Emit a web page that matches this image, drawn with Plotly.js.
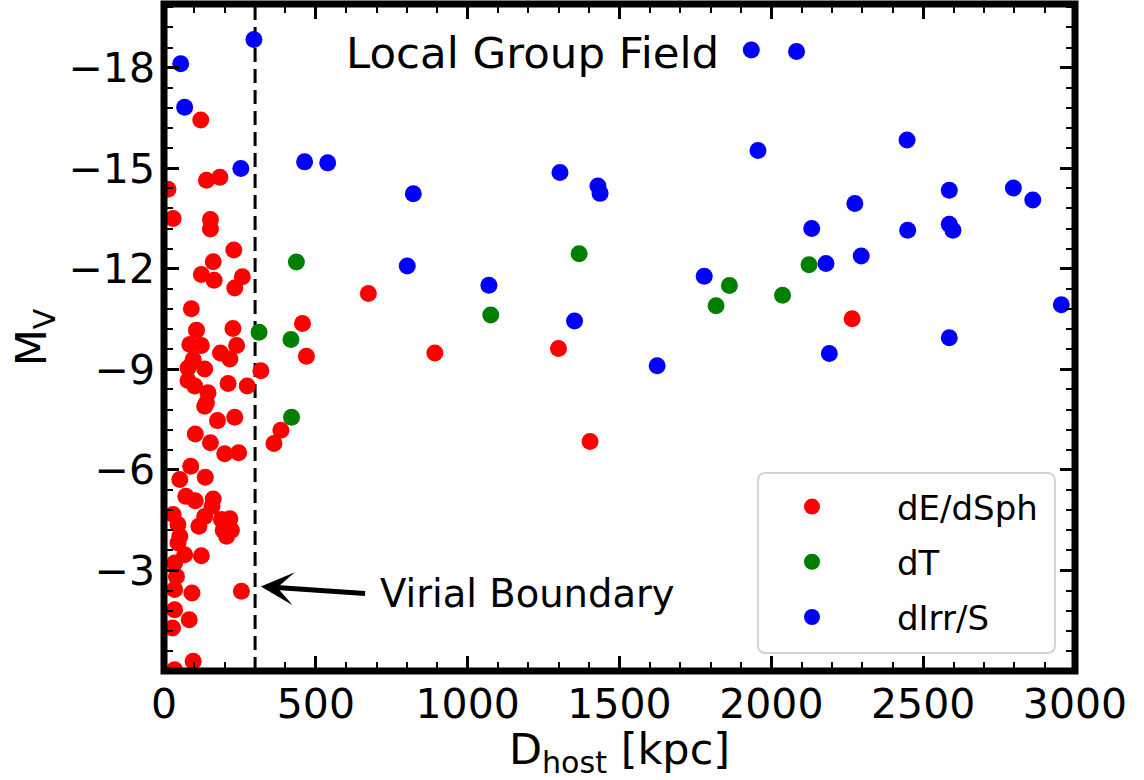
<!DOCTYPE html>
<html>
<head>
<meta charset="utf-8">
<script src="https://cdn.plot.ly/plotly-3.0.1.min.js"></script>
<style>html,body{margin:0;padding:0;background:#fff;}#chart{width:1144px;height:780px;}</style>
</head>
<body>
<div id="chart"></div>
<script>
// dE/dSph
const redD = [673,456,469,892,1299,1403,2266,319,385,362,255,121,140,184,13,30,153,153,230,162,123,165,258,233,90,107,227,85,123,239,186,217,96,79,134,79,211,274,101,145,140,134,176,233,103,153,200,246,88,52,136,72,103,162,158,30,134,189,217,115,46,195,222,52,206,46,68,123,35,41,35,92,35,83,28,96,35];
const redM = [-11.26,-10.37,-9.39,-9.49,-9.62,-6.85,-10.51,-8.96,-7.18,-6.79,-2.38,-16.44,-14.64,-14.73,-14.37,-13.50,-13.47,-13.19,-12.56,-12.21,-11.83,-11.66,-11.76,-11.43,-10.81,-10.17,-10.22,-9.74,-9.71,-9.71,-9.49,-9.31,-9.29,-9.04,-9.01,-8.67,-8.58,-8.50,-8.50,-8.30,-8.00,-7.90,-7.47,-7.57,-7.07,-6.81,-6.48,-6.51,-6.11,-5.71,-5.78,-5.21,-5.08,-5.13,-4.91,-4.67,-4.61,-4.52,-4.54,-4.32,-4.37,-4.20,-4.20,-4.02,-4.02,-3.82,-3.47,-3.44,-3.22,-2.82,-2.43,-2.33,-1.83,-1.53,-1.28,-0.29,-0.04];
// dT
const greenD = [436,313,418,420,1076,1367,1862,1818,2037,2124];
const greenM = [-12.20,-10.11,-9.89,-7.57,-10.62,-12.45,-11.50,-10.90,-11.21,-12.12];
// dIrr/S
const blueD = [55,296,68,253,463,539,821,801,1070,1304,1429,1436,1352,1779,1934,2083,1956,2447,2586,2797,2861,2275,2133,2449,2586,2598,2296,2180,2955,2586,2191,1624];
const blueM = [-18.12,-18.84,-16.82,-14.99,-15.19,-15.16,-14.24,-12.08,-11.51,-14.87,-14.47,-14.25,-10.44,-11.78,-18.53,-18.48,-15.53,-15.84,-14.34,-14.41,-14.05,-13.95,-13.20,-13.15,-13.33,-13.15,-12.38,-12.16,-10.93,-9.94,-9.47,-9.11];

const seriesNames = ['dE/dSph', 'dT', 'dIrr/S'];
const xTickVals = [0,500,1000,1500,2000,2500,3000];
const xTickText = ['0','500','1000','1500','2000','2500','3000'];
const yTickVals = [-18,-15,-12,-9,-6,-3];
const yTickText = ['\u221218','\u221215','\u221212','\u22129','\u22126','\u22123'];
const virialRadius = 300;

const FONT = 'DejaVu Sans, Liberation Sans, sans-serif';
function tr(x, y, name, color, grp) {
  return {type:'scatter', mode:'markers', x:x, y:y, name:name, legendgroup:grp,
    marker:{color:color, size:17, line:{width:0}}, hoverinfo:'skip'};
}
const data = [
  tr(redD, redM, seriesNames[0], '#ff0000', 'a'),
  tr(greenD, greenM, seriesNames[1], '#008000', 'b'),
  tr(blueD, blueM, seriesNames[2], '#0000ff', 'c')
];
const axisCommon = {
  showgrid:false, zeroline:false, showline:false, mirror:'ticks',
  ticks:'inside', ticklen:15, tickwidth:3, tickcolor:'#000',
  tickfont:{family:FONT, size:41, color:'#000'}
};
// legend frame (rounded box) in paper units
const lx0 = 0.652, lx1 = 0.978, ly0 = 0.027, ly1 = 0.2969, rx = 8/911, ry = 8/667;
const legendBox = 'M' + (lx0+rx) + ',' + ly0 + ' L' + (lx1-rx) + ',' + ly0 +
  ' Q' + lx1 + ',' + ly0 + ' ' + lx1 + ',' + (ly0+ry) +
  ' L' + lx1 + ',' + (ly1-ry) + ' Q' + lx1 + ',' + ly1 + ' ' + (lx1-rx) + ',' + ly1 +
  ' L' + (lx0+rx) + ',' + ly1 + ' Q' + lx0 + ',' + ly1 + ' ' + lx0 + ',' + (ly1-ry) +
  ' L' + lx0 + ',' + (ly0+ry) + ' Q' + lx0 + ',' + ly0 + ' ' + (lx0+rx) + ',' + ly0 + ' Z';

const layout = {
  width:1144, height:780,
  margin:{l:164, r:69, t:4, b:109, pad:0},
  paper_bgcolor:'#fff', plot_bgcolor:'#fff',
  font:{family:FONT, color:'#000'},
  showlegend:true,
  legend:{x:0.618, y:0.2894, xanchor:'left', yanchor:'top',
    bgcolor:'rgba(0,0,0,0)', borderwidth:0,
    font:{family:FONT, size:34, color:'#000'}, itemwidth:160, tracegroupgap:8},
  xaxis:Object.assign({}, axisCommon, {
    range:[0,3000], tickvals:xTickVals, ticktext:xTickText, ticklabelstandoff:5,
    minor:{ticks:'inside', ticklen:9, tickwidth:2, tickcolor:'#000', dtick:100, tick0:0},
    title:{text:'D<sub>host</sub> [kpc]', font:{family:FONT, size:43, color:'#000'}, standoff:4}
  }),
  yaxis:Object.assign({}, axisCommon, {
    range:[0,-19.9], tickvals:yTickVals, ticktext:yTickText, ticklabelstandoff:8,
    minor:{ticks:'inside', ticklen:9, tickwidth:2, tickcolor:'#000', dtick:0.6, tick0:0},
    title:{text:'M<sub>V</sub>', font:{family:FONT, size:43, color:'#000'}, standoff:8}
  }),
  shapes:[
    {type:'line', xref:'x', yref:'paper', x0:virialRadius, x1:virialRadius, y0:0, y1:1,
     line:{color:'#000', width:3, dash:'14px,7px'}, layer:'below'},
    {type:'path', xref:'paper', yref:'paper', path:legendBox,
     line:{color:'#d4d4d4', width:2}, fillcolor:'rgba(255,255,255,0.85)', layer:'above'},
    {type:'rect', xref:'paper', yref:'paper', x0:0, x1:1, y0:0, y1:1,
     line:{color:'#000', width:7}, fillcolor:'rgba(0,0,0,0)', layer:'above'}
  ],
  annotations:[
    {xref:'x', yref:'y', x:1215, y:-18.45, text:'Local Group Field', showarrow:false,
     xanchor:'center', yanchor:'middle', font:{family:FONT, size:43.5, color:'#000'}},
    {xref:'x', yref:'y', x:704, y:-2.31, text:'Virial Boundary', showarrow:false,
     xanchor:'left', yanchor:'middle', font:{family:FONT, size:38.5, color:'#000'}},
    {xref:'x', yref:'y', x:319, y:-2.52, axref:'x', ayref:'y', ax:667, ay:-2.31,
     text:'', showarrow:true, arrowhead:3, arrowsize:1.1, arrowwidth:5, arrowcolor:'#000'}
  ]
};
Plotly.newPlot('chart', data, layout, {displayModeBar:false, staticPlot:true});
</script>
</body>
</html>
